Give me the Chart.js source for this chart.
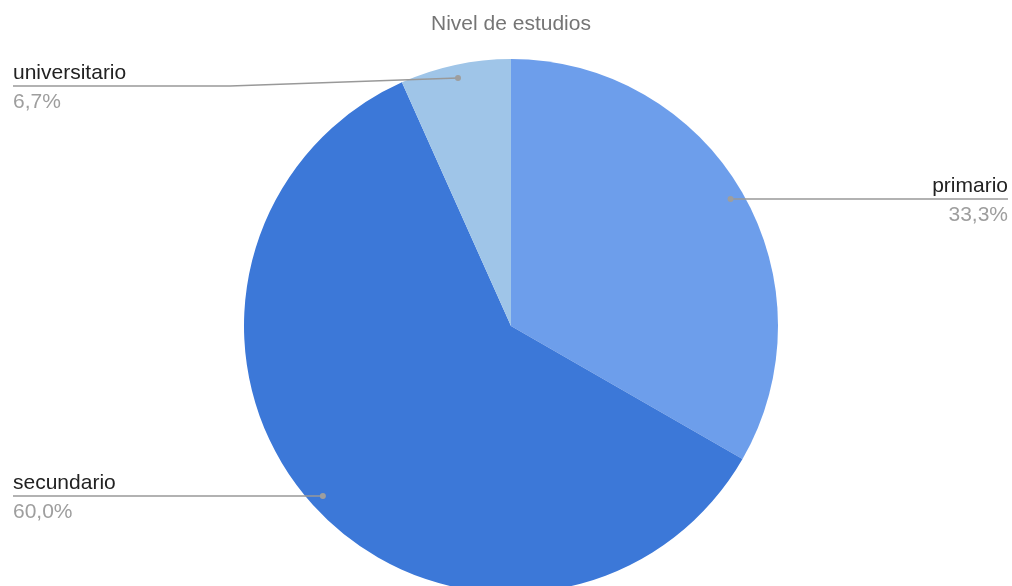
<!DOCTYPE html>
<html>
<head>
<meta charset="utf-8">
<title>Nivel de estudios</title>
<script src="https://cdn.jsdelivr.net/npm/chart.js@4.4.0/dist/chart.umd.min.js"></script>
<style>
  html, body { margin: 0; padding: 0; background: #fff; overflow: hidden; }
  #chart { display: block; }
</style>
</head>
<body>
<canvas id="chart" width="1012" height="620"></canvas>
<script>
const labels = ["primario", "secundario", "universitario"];
const values = [33.3, 60.0, 6.7];
const colors = ["#6d9eeb", "#3c78d8", "#9fc5e8"];

// where each callout goes: side of the chart, vertical shift of the line, elbow x
const callouts = [
  { side: "right", dy: 0 },
  { side: "left", dy: 0 },
  { side: "left", dy: 8, elbow: 230 }
];

const FONT = "'Liberation Sans', Arial, sans-serif";

function pct(v) {
  return v.toFixed(1).replace(".", ",") + "%";
}

const calloutPlugin = {
  id: "callouts",
  afterDatasetsDraw(chart) {
    const ctx = chart.ctx;
    const meta = chart.getDatasetMeta(0);
    const W = chart.width;
    ctx.save();
    meta.data.forEach((arc, i) => {
      const p = arc.getProps(["x", "y", "startAngle", "endAngle", "outerRadius"], true);
      const mid = (p.startAngle + p.endAngle) / 2;
      const r = p.outerRadius * 0.95;
      const dx = p.x + Math.cos(mid) * r;
      const dy = p.y + Math.sin(mid) * r;
      const c = callouts[i];
      const ly = dy + c.dy;
      const endX = c.side === "right" ? W - 4 : 13;

      ctx.strokeStyle = "#999999";
      ctx.lineWidth = 1.5;
      ctx.beginPath();
      ctx.moveTo(dx, dy);
      if (c.elbow !== undefined) ctx.lineTo(c.elbow, ly);
      ctx.lineTo(endX, ly);
      ctx.stroke();

      ctx.fillStyle = "#9e9e9e";
      ctx.beginPath();
      ctx.arc(dx, dy, 3, 0, Math.PI * 2);
      ctx.fill();

      ctx.textAlign = c.side === "right" ? "right" : "left";
      ctx.textBaseline = "alphabetic";
      ctx.font = "21px " + FONT;
      ctx.fillStyle = "#222222";
      ctx.fillText(labels[i], endX, ly - 7);
      ctx.fillStyle = "#9e9e9e";
      ctx.fillText(pct(values[i]), endX, ly + 22);
    });
    ctx.restore();
  }
};

new Chart(document.getElementById("chart"), {
  type: "pie",
  data: {
    labels: labels,
    datasets: [{
      data: values,
      backgroundColor: colors,
      borderWidth: 0,
      hoverOffset: 0
    }]
  },
  options: {
    responsive: false,
    animation: false,
    layout: {
      padding: { left: 10, right: 0, top: 0, bottom: 27 }
    },
    plugins: {
      legend: { display: false },
      tooltip: { enabled: false },
      title: {
        display: true,
        text: "Nivel de estudios",
        color: "#757575",
        font: { family: FONT, size: 21, weight: "normal" },
        padding: { top: 12, bottom: 21.8 }
      }
    }
  },
  plugins: [calloutPlugin]
});
</script>
</body>
</html>
